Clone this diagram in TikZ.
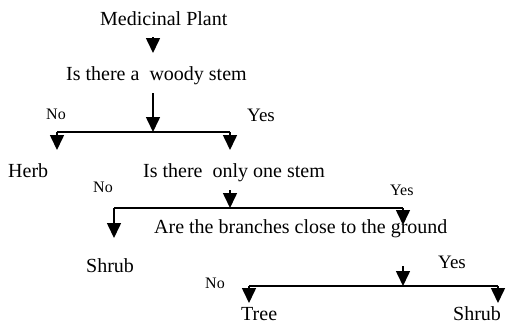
\documentclass[tikz,border=0pt]{standalone}
\usepackage{fontspec}
\setmainfont{Liberation Serif}
\usetikzlibrary{arrows.meta}
\begin{document}
\begin{tikzpicture}[x=1pt,y=-1pt,
  txt/.style={inner sep=0pt, anchor=base west, font=\fontsize{20}{24}\selectfont},
  sml/.style={inner sep=0pt, anchor=base west, font=\fontsize{16}{19}\selectfont},
  mid/.style={inner sep=0pt, anchor=base west, font=\fontsize{19}{23}\selectfont},
  arr/.style={line width=1.6pt, -{Triangle[width=14pt,length=15pt]}},
  bar/.style={line width=1.8pt}]
\useasboundingbox (0,0) rectangle (512,332);
% texts
\node[txt] (mp) at (100,25) {Medicinal Plant};
\node[txt] (q1) at (66,80) {Is there a~ woody stem};
\node[sml] (no1) at (46,119) {No};
\node[mid] (yes1) at (247,121) {Yes};
\node[txt] (herb) at (8,177) {Herb};
\node[txt] (q2) at (143,177) {Is there~ only one stem};
\node[sml] (no2) at (93,192) {No};
\node[sml] (yes2) at (390,195) {Yes};
\node[txt] (q3) at (154,233) {Are the branches close to the ground};
\node[txt] (shrub1) at (86,272) {Shrub};
\node[mid] (yes3) at (438,268) {Yes};
\node[sml] (no3) at (205,288) {No};
\node[txt] (tree) at (241,320) {Tree};
\node[txt] (shrub2) at (453,320) {Shrub};
% connector points
\coordinate (a1s) at (153,37);  \coordinate (a1e) at (153,53);
\coordinate (a2s) at (153,93);  \coordinate (j1) at (153,132);
\coordinate (l1) at (57,132);   \coordinate (r1) at (230,132);
\coordinate (l1e) at (57,150);  \coordinate (r1e) at (230,150);
\coordinate (a3s) at (230,190); \coordinate (j2) at (230,208);
\coordinate (l2) at (114,208);  \coordinate (r2) at (403,208);
\coordinate (l2e) at (114,238); \coordinate (r2e) at (403,225);
\coordinate (a4s) at (403,266); \coordinate (j3) at (403,286);
\coordinate (l3) at (249,286);  \coordinate (r3) at (498,286);
\coordinate (l3e) at (249,303); \coordinate (r3e) at (498,303);
% connectors
\draw[arr] (a1s) -- (a1e);
\draw[arr] (a2s) -- (j1);
\draw[bar] (l1) -- (r1);
\draw[arr] (l1) -- (l1e);
\draw[arr] (r1) -- (r1e);
\draw[arr] (a3s) -- (j2);
\draw[bar] (l2) -- (r2);
\draw[arr] (l2) -- (l2e);
\draw[arr] (r2) -- (r2e);
\draw[arr] (a4s) -- (j3);
\draw[bar] (l3) -- (r3);
\draw[arr] (l3) -- (l3e);
\draw[arr] (r3) -- (r3e);
\end{tikzpicture}
\end{document}
